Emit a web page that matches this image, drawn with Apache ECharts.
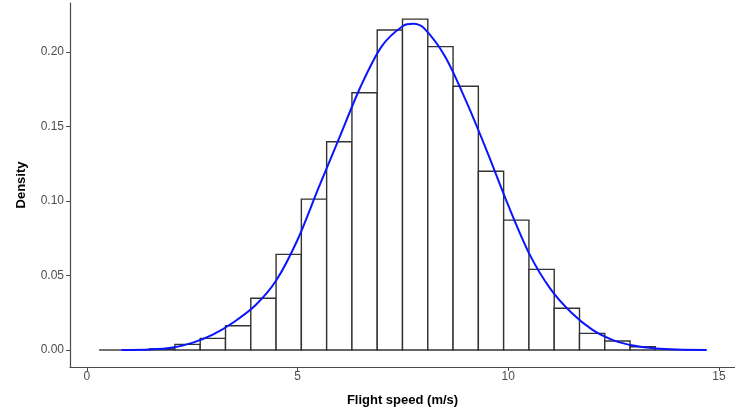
<!DOCTYPE html>
<html>
<head>
<meta charset="utf-8">
<script src="https://cdn.jsdelivr.net/npm/echarts@6/dist/echarts.min.js"></script>
<style>
html,body{margin:0;padding:0;background:#fff;}
#chart{width:735px;height:413px;}
</style>
</head>
<body>
<div id="chart"></div>
<script>
// Histogram bins (left edge, bin width), density values
const binLeft = [0.29, 0.89, 1.49, 2.09, 2.69, 3.29, 3.89, 4.49, 5.09, 5.69, 6.29, 6.89, 7.49, 8.09, 8.69, 9.29, 9.89, 10.49, 11.09, 11.69, 12.29, 12.89, 13.49, 14.09];
const binWidth = 0.6;
const binDensity = [0, 0, 0.0008, 0.0038, 0.0078, 0.0163, 0.0347, 0.0642, 0.1013, 0.1398, 0.1727, 0.2148, 0.2221, 0.2036, 0.1770, 0.1200, 0.0872, 0.0541, 0.0280, 0.0112, 0.0060, 0.0022, 0.0003, 0];

// Density curve
const curveX = [0.82, 1.5, 2.0, 2.5, 3.0, 3.5, 4.0, 4.5, 5.0, 5.5, 6.0, 6.5, 7.0, 7.5, 7.75, 8.0, 8.5, 9.0, 9.5, 10.0, 10.5, 11.0, 11.5, 12.0, 12.5, 13.0, 13.5, 14.0, 14.71];
const curveY = [0, 0.0004, 0.0015, 0.0048, 0.0105, 0.019, 0.030, 0.047, 0.074, 0.109, 0.143, 0.177, 0.204, 0.2175, 0.2190, 0.2160, 0.197, 0.167, 0.133, 0.097, 0.0645, 0.041, 0.025, 0.0135, 0.0065, 0.0028, 0.0010, 0.0003, 0];

const xTicks = [0, 5, 10, 15];
const yTicks = [0, 0.05, 0.10, 0.15, 0.20];
const xTitle = 'Flight speed (m/s)';
const yTitle = 'Density';

const chart = echarts.init(document.getElementById('chart'), null, {renderer: 'canvas'});

const barData = binLeft.map((l, i) => [l, l + binWidth, binDensity[i]]);
const lineData = curveX.map((x, i) => [x, curveY[i]]);

const axisColor = '#4a4a4a';
const labelColor = '#4d4d4d';

chart.setOption({
  animation: false,
  backgroundColor: '#ffffff',
  grid: {left: 70, right: 0, top: 3, bottom: 46, containLabel: false},
  xAxis: {
    type: 'value',
    min: -0.4,
    max: 15.38,
    name: xTitle,
    nameLocation: 'middle',
    nameGap: 27,
    nameTextStyle: {fontFamily: 'Liberation Sans, Arial, sans-serif', fontSize: 13, fontWeight: 'bold', color: '#000'},
    splitLine: {show: false},
    axisLine: {onZero: false, lineStyle: {color: axisColor, width: 1.2}},
    axisTick: {customValues: xTicks, length: 4, lineStyle: {color: axisColor}},
    axisLabel: {customValues: xTicks, margin: 4, fontFamily: 'Liberation Sans, Arial, sans-serif', fontSize: 12, color: labelColor}
  },
  yAxis: {
    type: 'value',
    min: -0.0114,
    max: 0.2329,
    name: yTitle,
    nameLocation: 'middle',
    nameGap: 42,
    nameTextStyle: {fontFamily: 'Liberation Sans, Arial, sans-serif', fontSize: 13, fontWeight: 'bold', color: '#000'},
    splitLine: {show: false},
    axisLine: {show: true, onZero: false, lineStyle: {color: axisColor, width: 1.2}},
    axisTick: {show: true, customValues: yTicks, length: 4, lineStyle: {color: axisColor}},
    axisLabel: {customValues: yTicks, margin: 6, fontFamily: 'Liberation Sans, Arial, sans-serif', fontSize: 12, color: labelColor,
      formatter: v => v.toFixed(2)}
  },
  series: [
    {
      type: 'custom',
      data: barData,
      encode: {x: [0, 1], y: 2},
      renderItem: function (params, api) {
        const p0 = api.coord([api.value(0), api.value(2)]);
        const p1 = api.coord([api.value(1), 0]);
        const h = p1[1] - p0[1];
        if (h < 0.5) {
          return {
            type: 'line',
            shape: {x1: p0[0], y1: p1[1], x2: p1[0], y2: p1[1]},
            style: {stroke: '#333', lineWidth: 1.4}
          };
        }
        return {
          type: 'rect',
          shape: {x: p0[0], y: p0[1], width: p1[0] - p0[0], height: h},
          style: {fill: '#ffffff', stroke: '#333', lineWidth: 1.4}
        };
      },
      z: 2
    },
    {
      type: 'line',
      data: lineData,
      smooth: 0.3,
      showSymbol: false,
      lineStyle: {color: '#0a14ff', width: 2},
      z: 3
    }
  ]
});
</script>
</body>
</html>
